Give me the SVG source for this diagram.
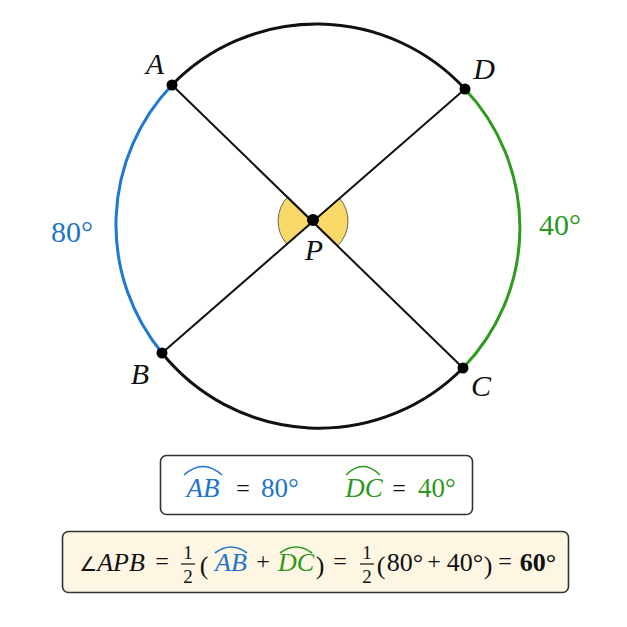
<svg xmlns="http://www.w3.org/2000/svg" width="627" height="627" viewBox="0 0 627 627">
<style>
.arc{fill:none;stroke-width:3}
.chord{stroke:#111;stroke-width:2;fill:none}
.pt{fill:#000}
text{font-family:'Liberation Serif','DejaVu Serif',serif}
.lbl{font-style:italic;font-size:30px;fill:#111;text-anchor:middle}
.num{font-size:30px;text-anchor:middle}
.bx{font-size:27px;text-anchor:middle}
.m{font-size:26px;fill:#111;text-anchor:middle}
.fr{font-size:19px;fill:#111;text-anchor:middle}
.mi{font-style:italic}
.op{font-size:24px;fill:#111;text-anchor:middle}
.box{stroke:#333;stroke-width:1.6}
.acc{fill:none;stroke-width:1.6}
.blue{fill:#1f74cc}
.green{fill:#2e971f}
</style>
<rect width="627" height="627" fill="#fff"/>
<g id="sectors">
<path d="M313,221 L287.8,196.7 A35,35 0 0 0 286.7,244 Z" fill="#f8d968" stroke="#444" stroke-width="0.8"/>
<path d="M313,221 L339.4,198 A35,35 0 0 1 338,245.5 Z" fill="#f8d968" stroke="#444" stroke-width="0.8"/>
</g>
<g id="circle">
<path class="arc" stroke="#111" d="M172,85 A202,202 0 0 1 465,89"/>
<path class="arc" stroke="#2e9b1f" d="M465,89 A202,202 0 0 1 463,368"/>
<path class="arc" stroke="#111" d="M463,368 A202,202 0 0 1 162,353"/>
<path class="arc" stroke="#1f78d1" d="M162,353 A202,202 0 0 1 172,85"/>
</g>
<g id="connectors">
<line class="chord" x1="172" y1="85" x2="463" y2="368"/>
<line class="chord" x1="465" y1="89" x2="162" y2="353"/>
</g>
<g id="node-A"><circle class="pt" cx="172" cy="85" r="5.5"/><text class="lbl" x="155" y="74">A</text></g>
<g id="node-D"><circle class="pt" cx="465" cy="89" r="5.5"/><text class="lbl" x="484" y="79">D</text></g>
<g id="node-B"><circle class="pt" cx="162" cy="353" r="5.5"/><text class="lbl" x="140" y="384">B</text></g>
<g id="node-C"><circle class="pt" cx="463" cy="368" r="5.5"/><text class="lbl" x="481" y="396">C</text></g>
<g id="node-P"><circle class="pt" cx="313" cy="220" r="6"/><text class="lbl" x="314" y="260">P</text></g>
<g id="label-80"><text class="num blue" x="72" y="242">80°</text></g>
<g id="label-40"><text class="num green" x="560" y="235">40°</text></g>
<g id="box1">
<rect class="box" x="160.5" y="455.5" width="312" height="59" rx="6" fill="#fff"/>
<path class="acc" stroke="#1f74cc" d="M184,475 Q203,458 222,475"/>
<text class="bx blue mi" x="203" y="497">AB</text>
<text class="op" x="243" y="496">=</text>
<text class="bx blue" x="280" y="497">80°</text>
<path class="acc" stroke="#2e971f" d="M346,475 Q363,458 380,475"/>
<text class="bx green mi" x="364" y="497">DC</text>
<text class="op" x="399" y="496">=</text>
<text class="bx green" x="437" y="497">40°</text>
</g>
<g id="box2">
<rect class="box" x="62.5" y="531.5" width="506" height="61" rx="6" fill="#fcf6e2"/>
<text class="m" x="112" y="571"><tspan font-family="DejaVu Sans" font-size="20">∠</tspan><tspan class="mi">APB</tspan></text>
<text class="op" x="162" y="569">=</text>
<text class="fr" x="188" y="559">1</text>
<line x1="181" y1="564" x2="195" y2="564" stroke="#111" stroke-width="1.2"/>
<text class="fr" x="188" y="583">2</text>
<text class="m" x="204" y="574" font-size="32">(</text>
<path class="acc" stroke="#1f74cc" d="M215,553 Q231,541 247,553"/>
<text class="m blue mi" x="231" y="571">AB</text>
<text class="op" x="263" y="569">+</text>
<path class="acc" stroke="#2e971f" d="M280,553 Q296,541 312,553"/>
<text class="m green mi" x="296" y="571">DC</text>
<text class="m" x="320" y="574" font-size="32">)</text>
<text class="op" x="340" y="569">=</text>
<text class="fr" x="367" y="559">1</text>
<line x1="360" y1="564" x2="374" y2="564" stroke="#111" stroke-width="1.2"/>
<text class="fr" x="367" y="583">2</text>
<text class="m" x="381" y="574" font-size="32">(</text>
<text class="m" x="405" y="571">80°</text>
<text class="op" x="434" y="569">+</text>
<text class="m" x="465" y="571">40°</text>
<text class="m" x="488" y="574" font-size="32">)</text>
<text class="op" x="505" y="569">=</text>
<text class="m" x="538" y="571" font-weight="bold">60°</text>
</g>
</svg>
